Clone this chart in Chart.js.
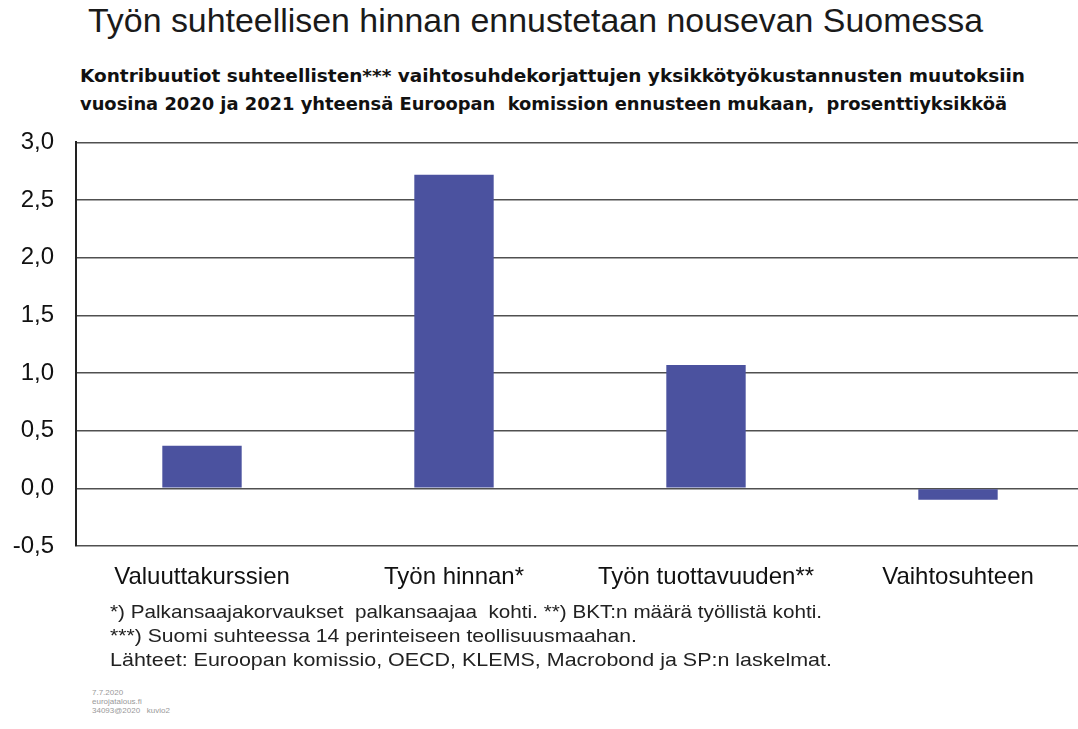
<!DOCTYPE html>
<html>
<head>
<meta charset="utf-8">
<script src="https://cdn.jsdelivr.net/npm/chart.js@4.4.1/dist/chart.umd.min.js"></script>
<style>
  html, body { margin: 0; padding: 0; background: #fff; overflow: hidden; width: 1078px; height: 729px; }
  #wrap { position: relative; width: 1078px; height: 729px; overflow: hidden; }
  .txt { position: absolute; white-space: nowrap; color: #111; transform-origin: left top; }
  #title { left: 88px; top: 2px; font: 33px "Liberation Sans", Arial, sans-serif; color: #1a1a1a; }
  .sub { left: 80px; font: bold 18px "DejaVu Sans Condensed", "DejaVu Sans", sans-serif; }
  .note { left: 110px; font: 19px "Liberation Sans", Arial, sans-serif; color: #222; }
  .small { left: 92px; font: 8px "Liberation Sans", Arial, sans-serif; color: #999; }
  #chartBox { position: absolute; left: 0; top: 106px; width: 1084px; height: 500px; }
</style>
</head>
<body>
<div id="wrap">
  <div id="title" class="txt">Työn suhteellisen hinnan ennustetaan nousevan Suomessa</div>
  <div class="txt sub" style="top:65px">Kontribuutiot suhteellisten*** vaihtosuhdekorjattujen yksikkötyökustannusten muutoksiin</div>
  <div class="txt sub" style="top:93px">vuosina 2020 ja 2021 yhteensä Euroopan&nbsp; komission ennusteen mukaan,&nbsp; prosenttiyksikköä</div>
  <div id="chartBox"><canvas id="c"></canvas></div>
  <div class="txt note" style="top:601px">*) Palkansaajakorvaukset&nbsp; palkansaajaa&nbsp; kohti. **) BKT:n määrä työllistä kohti.</div>
  <div class="txt note" style="top:625px">***) Suomi suhteessa 14 perinteiseen teollisuusmaahan.</div>
  <div class="txt note" style="top:649px">Lähteet: Euroopan komissio, OECD, KLEMS, Macrobond ja SP:n laskelmat.</div>
  <div class="txt small" style="top:688px">7.7.2020</div>
  <div class="txt small" style="top:697px">eurojatalous.fi</div>
  <div class="txt small" style="top:706px">34093@2020&nbsp;&nbsp; kuvio2</div>
</div>
<script>
const categories = ['Valuuttakurssien', 'Työn hinnan*', 'Työn tuottavuuden**', 'Vaihtosuhteen'];
const contributions = [0.37, 2.72, 1.07, -0.1];
const yTicks = [-0.5, 0, 0.5, 1.0, 1.5, 2.0, 2.5, 3.0];

function fitWidth(el, target) {
  const w = el.getBoundingClientRect().width;
  if (w > 0) el.style.transform = 'scaleX(' + (target / w) + ')';
}
fitWidth(document.getElementById('title'), 895);
const subs = document.querySelectorAll('.sub');
fitWidth(subs[0], 945);
fitWidth(subs[1], 927);
const notes = document.querySelectorAll('.note');
fitWidth(notes[0], 712);
fitWidth(notes[1], 527);
fitWidth(notes[2], 722);

new Chart(document.getElementById('c'), {
  type: 'bar',
  data: {
    labels: categories,
    datasets: [{
      data: contributions,
      backgroundColor: '#4B529F',
      borderWidth: 0,
      categoryPercentage: 1.0,
      barPercentage: 0.315
    }]
  },
  options: {
    responsive: true,
    maintainAspectRatio: false,
    animation: false,
    layout: { padding: { top: 11, left: 0, right: 0, bottom: 0 } },
    plugins: {
      legend: { display: false },
      tooltip: { enabled: false }
    },
    scales: {
      x: {
        grid: { display: false, drawTicks: false },
        border: { display: false },
        ticks: {
          padding: 17,
          color: '#111',
          font: { family: '"Liberation Sans", Arial, sans-serif', size: 24 },
          maxRotation: 0
        },
        afterFit: s => { s.height = 60; }
      },
      y: {
        min: -0.5,
        max: 3.0,
        afterBuildTicks: s => { s.ticks = yTicks.map(v => ({ value: v })); },
        grid: { color: '#505050', lineWidth: 1.6, drawTicks: false },
        border: { display: true, color: '#222', width: 2 },
        ticks: {
          padding: 22,
          color: '#111',
          font: { family: '"Liberation Sans", Arial, sans-serif', size: 24 },
          callback: v => v.toFixed(1).replace('.', ',')
        },
        afterFit: s => { s.width = 76; }
      }
    }
  }
});
</script>
</body>
</html>
